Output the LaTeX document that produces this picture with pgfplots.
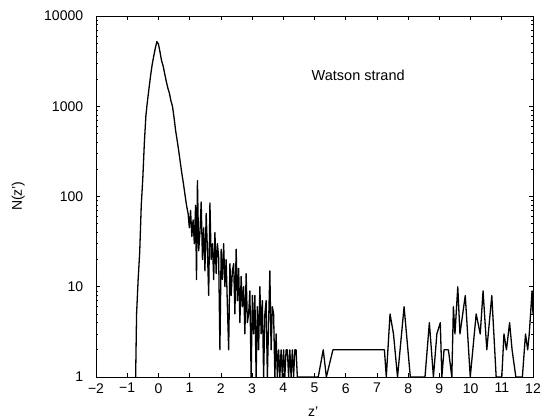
\documentclass[border=0pt]{standalone}
\usepackage{fontspec}
\setmainfont{Liberation Sans}
\usepackage{pgfplots}
\pgfplotsset{compat=1.18}
\begin{document}
\fontsize{14}{16}\selectfont
\begin{tikzpicture}[x=1pt,y=1pt]
\useasboundingbox (-96,-42) rectangle (450,377);
\begin{axis}[
  at={(0,0)}, anchor=south west,
  scale only axis, width=437pt, height=361pt,
  ymode=log, xmin=-2, xmax=12, ymin=1, ymax=10000,
  xtick={-2,-1,0,1,2,3,4,5,6,7,8,9,10,11,12},
  xticklabels={−2,−1,0,1,2,3,4,5,6,7,8,9,10,11,12},
  ytick={1,10,100,1000,10000},
  yticklabels={1,10,100,1000,10000},
  tick align=inside, tick pos=both,
  major tick length=4pt, minor tick length=2.5pt,
  axis line style={line width=0.9pt},
  every tick/.style={line width=0.7pt,black},
  tick label style={font=\fontsize{14}{16}\selectfont},
  yticklabel style={xshift=-8pt},
  xticklabel style={yshift=-1.5pt},
  label style={font=\fontsize{14}{16}\selectfont},
  xlabel={z'}, ylabel={N(z')},
  xlabel style={at={(axis description cs:0.497,0)},anchor=base,yshift=-40pt},
  ylabel style={at={(axis description cs:-0.178,0.501)},anchor=center},
  clip=true,
]
\addplot[black, line width=1.3pt, line join=round] coordinates {
(-0.73,1) (-0.70,5) (-0.65,12) (-0.60,24) (-0.55,80) (-0.50,160) (-0.45,400)
(-0.40,800) (-0.35,1150) (-0.30,1600) (-0.25,2200) (-0.20,2900) (-0.15,3600)
(-0.10,4400) (-0.05,5200) (0.00,4900) (0.05,4000) (0.10,3200) (0.15,2800)
(0.20,2300) (0.25,1900) (0.30,1600) (0.35,1400) (0.40,1150) (0.45,1000)
(0.50,750) (0.55,540) (0.60,420) (0.65,320) (0.70,240) (0.75,180) (0.80,140)
(0.85,105) (0.90,80) (0.95,65)
(0.99,45) (1.03,70) (1.07,36) (1.11,55) (1.15,30) (1.19,80) (1.22,12) (1.25,150)
(1.29,25) (1.33,40) (1.37,87) (1.41,20) (1.45,45) (1.49,15) (1.53,65) (1.57,25)
(1.61,8) (1.65,85) (1.69,20) (1.73,30) (1.77,12) (1.81,40) (1.85,14) (1.89,30)
(1.93,21) (1.97,2) (2.01,26) (2.05,12) (2.09,30) (2.13,10) (2.17,20) (2.21,6)
(2.25,2) (2.29,18) (2.33,8) (2.37,15) (2.41,18) (2.45,5) (2.49,26) (2.53,7)
(2.57,16) (2.61,4) (2.65,13) (2.69,6) (2.73,10) (2.77,3) (2.81,14) (2.85,4)
(2.89,5) (2.93,9) (2.97,1) (3.01,8) (3.05,3) (3.09,8) (3.13,1) (3.17,6) (3.21,2)
(3.25,10) (3.29,3) (3.33,7) (3.37,1) (3.41,5) (3.45,7) (3.49,1) (3.53,4) (3.57,15)
(3.61,2) (3.65,6) (3.69,5) (3.73,1) (3.77,3) (3.81,1) (3.85,2) (3.89,1) (3.93,2)
(3.97,1) (4.01,2) (4.05,1) (4.09,2) (4.13,2) (4.17,1) (4.21,2) (4.25,1) (4.29,2)
(4.33,1) (4.37,2) (4.41,2) (4.45,1)
(5.12,1) (5.28,2) (5.38,1) (5.59,2) (7.24,2) (7.30,1) (7.42,5) (7.53,3) (7.66,1)
(7.87,6) (8.07,1) (8.54,1) (8.68,4) (8.81,1) (8.92,3) (9.03,4) (9.08,1) (9.15,2)
(9.29,2) (9.40,1) (9.45,6) (9.50,3) (9.59,10) (9.66,3) (9.83,8) (9.99,1)
(10.18,5) (10.31,3) (10.40,9) (10.52,2) (10.68,8) (10.82,1) (11.00,1) (11.07,3)
(11.15,2) (11.25,4) (11.33,2) (11.45,1) (11.66,1) (11.76,3) (11.83,2) (11.88,3)
(11.97,9) (12.0,5)
};
\node[font=\fontsize{14.5}{16}\selectfont] at (axis cs:6.4,2200) {Watson strand};
\end{axis}
\end{tikzpicture}
\end{document}
